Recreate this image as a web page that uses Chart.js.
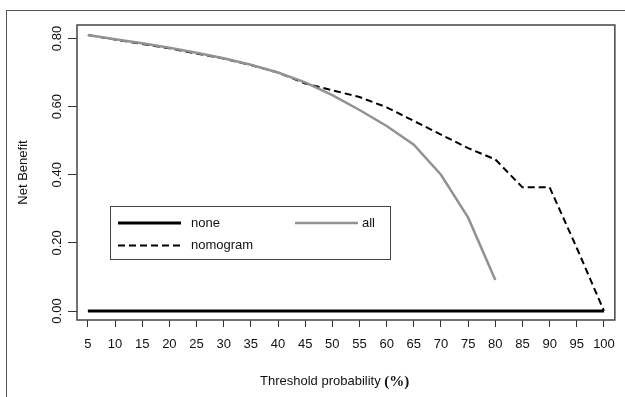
<!DOCTYPE html>
<html>
<head>
<meta charset="utf-8">
<script src="https://cdn.jsdelivr.net/npm/chart.js@4.4.0/dist/chart.umd.min.js"></script>
<style>
  html, body { margin: 0; padding: 0; background: #fff; }
  #wrap { position: relative; width: 625px; height: 397px; overflow: hidden; }
  #frame { position: absolute; left: 6px; top: 10px; width: 700px; height: 500px;
           border-top: 1.5px solid #555; border-left: 1.5px solid #555; }
  canvas { position: absolute; left: 0; top: 0; }
</style>
</head>
<body>
<div id="wrap">
  <div id="frame"></div>
  <canvas id="dca" width="625" height="397"></canvas>
</div>
<script>
// threshold probability (%) and net benefit
const thresholds = [5, 10, 15, 20, 25, 30, 35, 40, 45, 50, 55, 60, 65, 70, 75, 80, 85, 90, 95, 100];
const noneValues = [0, 0, 0, 0, 0, 0, 0, 0, 0, 0, 0, 0, 0, 0, 0, 0, 0, 0, 0, 0];
const allValues = [0.81, 0.798, 0.786, 0.773, 0.758, 0.742, 0.723, 0.700, 0.671, 0.634, 0.590, 0.543, 0.488, 0.400, 0.274, 0.091];
const nomogramValues = [0.81, 0.797, 0.784, 0.771, 0.756, 0.741, 0.722, 0.700, 0.668, 0.648, 0.628, 0.598, 0.558, 0.518, 0.478, 0.445, 0.363, 0.363, 0.185, 0.0];
const xTicks = thresholds;
const yTicks = [0, 0.2, 0.4, 0.6, 0.8];

const FONT = '"Liberation Sans", Arial, sans-serif';

function toPoints(values) {
    return values.map((v, i) => ({ x: thresholds[i], y: v }));
}

// box around the plotting region
const plotBox = {
    id: 'plotBox',
    afterDraw(chart) {
        const { ctx, chartArea: a } = chart;
        ctx.save();
        ctx.strokeStyle = '#444';
        ctx.lineWidth = 1.5;
        ctx.strokeRect(a.left, a.top, a.right - a.left, a.bottom - a.top);
        ctx.restore();
    }
};

// R-style legend box inside the plot
const boxLegend = {
    id: 'boxLegend',
    afterDraw(chart) {
        const ctx = chart.ctx;
        const ds = chart.data.datasets;
        const slots = [
            { i: 0, x: 118, y: 223 },
            { i: 1, x: 295, y: 223 },
            { i: 2, x: 118, y: 245.5 }
        ];
        ctx.save();
        ctx.fillStyle = '#fff';
        ctx.fillRect(110, 206, 281, 54);
        ctx.strokeStyle = '#444';
        ctx.lineWidth = 1;
        ctx.strokeRect(110.5, 206.5, 280, 53);
        slots.forEach(s => {
            const d = ds[s.i];
            ctx.beginPath();
            ctx.strokeStyle = d.borderColor;
            ctx.lineWidth = d.borderWidth;
            ctx.setLineDash(d.borderDash || []);
            ctx.moveTo(s.x, s.y);
            ctx.lineTo(s.x + 63, s.y);
            ctx.stroke();
            ctx.setLineDash([]);
            ctx.fillStyle = '#111';
            ctx.font = '13px ' + FONT;
            ctx.textBaseline = 'middle';
            ctx.textAlign = 'left';
            ctx.fillText(d.label, s.i === 1 ? s.x + 67 : s.x + 73, s.y);
        });
        ctx.restore();
    }
};

// x-axis title with the serif bold (%)
const xTitle = {
    id: 'xTitle',
    afterDraw(chart) {
        const ctx = chart.ctx;
        ctx.save();
        ctx.fillStyle = '#111';
        ctx.textBaseline = 'alphabetic';
        ctx.textAlign = 'left';
        ctx.font = '13px ' + FONT;
        const first = 'Threshold probability ';
        const x0 = 260;
        ctx.fillText(first, x0, 385);
        const w = ctx.measureText(first).width;
        ctx.font = 'bold 15px "Liberation Serif", "Times New Roman", serif';
        ctx.fillText('(%)', x0 + w, 386);
        ctx.restore();
    }
};

new Chart(document.getElementById('dca'), {
    type: 'line',
    data: {
        datasets: [
            {
                label: 'none',
                data: toPoints(noneValues),
                borderColor: '#000',
                borderWidth: 3,
                pointRadius: 0
            },
            {
                label: 'all',
                data: toPoints(allValues),
                borderColor: '#929292',
                borderWidth: 2.5,
                pointRadius: 0
            },
            {
                label: 'nomogram',
                data: toPoints(nomogramValues),
                borderColor: '#000',
                borderWidth: 2,
                borderDash: [7, 4],
                pointRadius: 0
            }
        ]
    },
    options: {
        responsive: false,
        animation: false,
        layout: { padding: { left: 0, top: 25, right: 9, bottom: 0 } },
        plugins: { legend: { display: false }, tooltip: { enabled: false } },
        elements: { line: { tension: 0 } },
        scales: {
            x: {
                type: 'linear',
                min: 3,
                max: 102,
                afterBuildTicks: s => { s.ticks = xTicks.map(v => ({ value: v })); },
                afterFit: s => { s.height = 77; },
                border: { display: false },
                grid: { drawOnChartArea: false, tickLength: 7, tickColor: '#333', lineWidth: 1 },
                ticks: {
                    color: '#111',
                    font: { family: FONT, size: 13 },
                    padding: 10,
                    maxRotation: 0,
                    autoSkip: false
                }
            },
            y: {
                min: -0.0264,
                max: 0.8396,
                afterBuildTicks: s => { s.ticks = yTicks.map(v => ({ value: v })); },
                afterFit: s => { s.width = 77; },
                border: { display: false },
                grid: { drawOnChartArea: false, tickLength: 9, tickColor: '#333', lineWidth: 1 },
                ticks: {
                    color: '#111',
                    font: { family: FONT, size: 13 },
                    minRotation: 90,
                    maxRotation: 90,
                    crossAlign: 'center',
                    padding: -2,
                    callback: v => v.toFixed(2)
                },
                title: {
                    display: true,
                    text: 'Net Benefit',
                    color: '#111',
                    font: { family: FONT, size: 13 },
                    padding: { top: 16, bottom: 0 }
                }
            }
        }
    },
    plugins: [plotBox, boxLegend, xTitle]
});
</script>
</body>
</html>
